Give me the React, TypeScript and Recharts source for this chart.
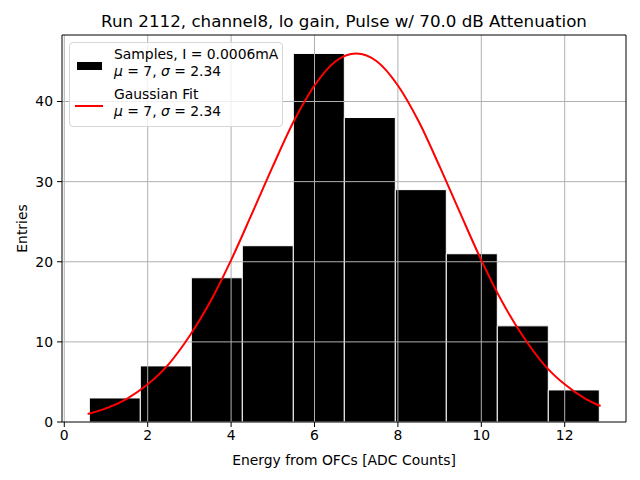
import {
  ComposedChart,
  Line,
  XAxis,
  YAxis,
  ReferenceArea,
  ReferenceLine,
  Label,
} from 'recharts';

// Histogram of the samples
const binEdges = [0.6, 1.823, 3.046, 4.269, 5.492, 6.715, 7.938, 9.161, 10.384, 11.607, 12.83];
const binCounts = [3, 7, 18, 22, 46, 38, 29, 21, 12, 4];

// Gaussian fit curve
const fitX = [0.56, 1, 1.5, 2, 2.5, 3, 3.5, 4, 4.5, 5, 5.5, 6, 6.5, 7, 7.5, 8, 8.5, 9, 9.5, 10, 10.5, 11, 11.5, 12, 12.5, 12.86];
const fitY = [1.0, 1.7, 2.9, 4.7, 7.2, 10.7, 15.0, 20.2, 26.0, 31.9, 37.5, 42.0, 45.0, 46.0, 45.0, 42.0, 37.5, 31.9, 26.0, 20.2, 15.0, 10.7, 7.2, 4.7, 2.9, 2.0];

const xTicks = [0, 2, 4, 6, 8, 10, 12];
const yTicks = [0, 10, 20, 30, 40];
const xDomain: [number, number] = [-0.055, 13.47];
const yDomain: [number, number] = [0, 48.3];

const TITLE = 'Run 2112, channel8, lo gain, Pulse w/ 70.0 dB Attenuation';
const FONT = '"DejaVu Sans", sans-serif';
const GRID = '#b0b0b0';

const fitData = fitX.map((x, i) => ({ x, y: fitY[i] }));

export default function App() {
  const tick = { fontSize: 13.9, fill: '#000', fontFamily: FONT };

  return (
    <div style={{ position: 'absolute', left: 0, top: 0, width: 640, height: 480, background: '#fff', fontFamily: FONT }}>
      <div
        style={{
          position: 'absolute',
          left: 62,
          width: 564,
          top: 11,
          textAlign: 'center',
          fontSize: 16.7,
          lineHeight: '20px',
          color: '#000',
        }}
      >
        {TITLE}
      </div>

      <ComposedChart
        width={640}
        height={480}
        data={fitData}
        margin={{ top: 35, right: 14, left: 0, bottom: 0 }}
      >
        <XAxis
          type="number"
          dataKey="x"
          domain={xDomain}
          ticks={xTicks}
          allowDataOverflow
          height={58}
          tickSize={5}
          tickMargin={3}
          tick={tick}
          axisLine={{ stroke: '#000' }}
          tickLine={{ stroke: '#000' }}
        >
          <Label
            value="Energy from OFCs [ADC Counts]"
            position="insideBottom"
            offset={15}
            style={{ fontSize: 13.9, fill: '#000', fontFamily: FONT }}
          />
        </XAxis>
        <YAxis
          type="number"
          domain={yDomain}
          ticks={yTicks}
          allowDataOverflow
          width={62}
          tickSize={5}
          tickMargin={4}
          tick={tick}
          axisLine={{ stroke: '#000' }}
          tickLine={{ stroke: '#000' }}
        >
          <Label
            value="Entries"
            angle={-90}
            position="insideLeft"
            offset={22}
            style={{ fontSize: 13.9, fill: '#000', fontFamily: FONT, textAnchor: 'middle' }}
          />
        </YAxis>

        {binCounts.map((count, i) => (
          <ReferenceArea
            key={`bin-${i}`}
            x1={binEdges[i]}
            x2={binEdges[i + 1]}
            y1={0}
            y2={count}
            fill="#000"
            fillOpacity={1}
            stroke="#fff"
            strokeWidth={1}
            ifOverflow="visible"
            zIndex={100}
          />
        ))}

        {xTicks.map((t) => (
          <ReferenceLine key={`gx-${t}`} x={t} stroke={GRID} strokeWidth={1} ifOverflow="visible" zIndex={200} />
        ))}
        {yTicks.slice(1).map((t) => (
          <ReferenceLine key={`gy-${t}`} y={t} stroke={GRID} strokeWidth={1} ifOverflow="visible" zIndex={200} />
        ))}

        <Line
          type="monotone"
          dataKey="y"
          stroke="#ff0000"
          strokeWidth={2}
          dot={false}
          activeDot={false}
          isAnimationActive={false}
          zIndex={400}
        />

        {/* top and right spines */}
        <ReferenceLine x={xDomain[1]} stroke="#000" strokeWidth={1} ifOverflow="visible" zIndex={500} />
        <ReferenceLine y={yDomain[1]} stroke="#000" strokeWidth={1} ifOverflow="visible" zIndex={500} />
      </ComposedChart>

      {/* Legend */}
      <div
        style={{
          position: 'absolute',
          left: 69,
          top: 42,
          width: 212,
          height: 83,
          border: '1px solid #d6d6d6',
          borderRadius: 4,
          background: 'rgba(255,255,255,0.8)',
          fontSize: 13.9,
          color: '#000',
        }}
      >
        <div style={{ position: 'absolute', left: 7, top: 19, width: 25, height: 8, background: '#000' }} />
        <div style={{ position: 'absolute', left: 44, top: 3, lineHeight: '17.4px', whiteSpace: 'nowrap' }}>
          Samples, I = 0.0006mA
          <br />
          <i>μ</i> = 7, <i>σ</i> = 2.34
        </div>
        <div style={{ position: 'absolute', left: 5, top: 62, width: 28, height: 2, background: '#ff0000' }} />
        <div style={{ position: 'absolute', left: 44, top: 43, lineHeight: '17.4px', whiteSpace: 'nowrap' }}>
          Gaussian Fit
          <br />
          <i>μ</i> = 7, <i>σ</i> = 2.34
        </div>
      </div>
    </div>
  );
}
